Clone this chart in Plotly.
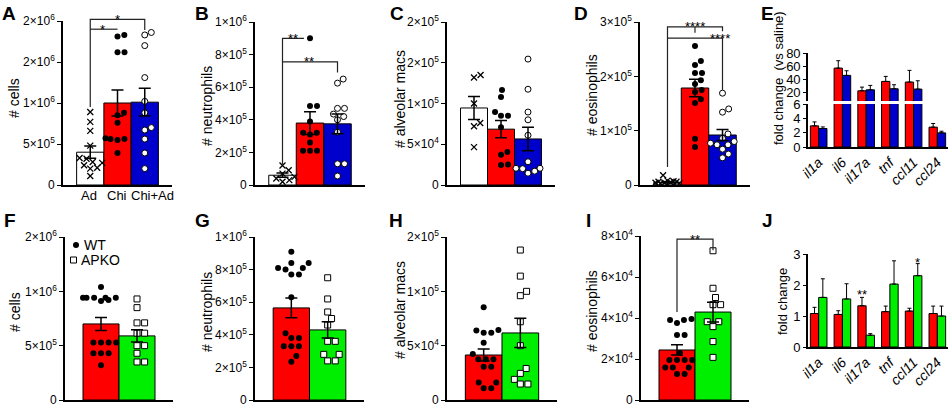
import plotly.graph_objects as go

W, H = 951, 408
RED, BLUE, GREEN = "#ff0000", "#0000cc", "#00ee00"
FONT = "Liberation Sans, Arial, sans-serif"

# ---------------- values ----------------
top_groups = ["Ad", "Chi", "Chi+Ad"]
bottom_groups = ["WT", "APKO"]
genes = ["il1a", "il6", "il17a", "tnf", "ccl11", "ccl24"]

# A  total cells
a_mean = [4.0e5, 1.00e6, 1.01e6]
a_sem = [7.5e4, 1.6e5, 1.7e5]
a_ad = [8.9e5, 7.7e5, 6.6e5, 4.8e5, 3.3e5, 3.2e5, 2.8e5, 2.7e5, 2.4e5, 2.1e5, 2.0e5, 1.1e5]
a_chi = [1.83e6, 1.81e6, 1.62e6, 1.62e6, 8.8e5, 8.5e5, 7.6e5, 5.7e5, 5.6e5, 5.6e5, 5.5e5, 3.9e5]
a_chiad = [1.86e6, 1.83e6, 1.70e6, 1.31e6, 1.02e6, 8.8e5, 7.0e5, 6.7e5, 5.6e5, 3.9e5, 2.0e5]

# B  neutrophils
b_mean = [6.0e4, 3.8e5, 3.75e5]
b_sem = [1.3e4, 7.0e4, 6.0e4]
b_ad = [1.2e5, 9.0e4, 7.0e4, 5.0e4, 4.0e4, 3.0e4, 2.0e4]
b_chi = [9.0e5, 4.85e5, 4.85e5, 3.9e5, 3.2e5, 3.2e5, 3.1e5, 2.6e5, 2.1e5, 2.1e5, 2.1e5]
b_chiad = [6.5e5, 6.25e5, 4.7e5, 4.7e5, 4.35e5, 4.2e5, 4.0e5, 3.25e5, 1.3e5, 1.3e5, 5.5e4]

# C  alveolar macrophages
c_mean = [9.45e4, 6.85e4, 5.65e4]
c_sem = [1.4e4, 1.05e4, 1.45e4]
c_ad = [1.35e5, 1.32e5, 1.0e5, 7.6e4, 7.2e4, 4.65e4]
c_chi = [1.165e5, 1.08e5, 8.95e4, 8.5e4, 8.5e4, 7.1e4, 4.05e4, 3.7e4, 2.5e4, 2.45e4]
c_chiad = [1.545e5, 1.175e5, 8.95e4, 8.0e4, 6.1e4, 2.85e4, 2.05e4, 2.05e4, 2.0e4, 1.7e4, 1.45e4]

# D  eosinophils
d_mean = [5.0e3, 1.785e5, 9.2e4]
d_sem = [1.0e3, 1.6e4, 1.0e4]
d_ad = [1.8e4, 8e3, 7e3, 6e3, 6e3, 5e3, 4e3, 4e3, 3e3, 3e3, 2e3, 2e3]
d_chi = [2.56e5, 2.28e5, 2.21e5, 2.06e5, 2.06e5, 1.93e5, 1.86e5, 1.75e5, 1.71e5, 1.58e5, 1.51e5, 8.5e4, 7.0e4]
d_chiad = [1.69e5, 1.40e5, 1.34e5, 9.4e4, 8.6e4, 8.0e4, 7.7e4, 7.4e4, 7.4e4, 6.6e4, 5.7e4, 5.0e4]

# E  fold change vs saline (mean and upper SEM)
e_chi = [2.95, 57.0, 22.5, 36.8, 35.8, 2.77]
e_chi_err = [0.55, 11.3, 5.6, 7.6, 17.8, 0.51]
e_chiad = [2.58, 45.9, 24.0, 25.6, 25.1, 1.97]
e_chiad_err = [0.22, 7.1, 6.7, 6.1, 12.7, 0.23]

# F  total cells WT / APKO
f_mean = [7.0e5, 5.9e5]
f_sem = [6.0e4, 5.7e4]
f_wt = [1.04e6, 9.4e5, 9.4e5, 9.4e5, 9.4e5, 9.4e5, 9.2e5, 9.1e5, 5.3e5, 5.3e5, 5.3e5, 5.3e5, 4.3e5, 4.3e5, 4.3e5, 3.2e5]
f_ko = [9.3e5, 8.5e5, 7.1e5, 7.1e5, 6.15e5, 6.15e5, 5.0e5, 5.0e5, 4.3e5, 3.5e5, 3.5e5]

# G  neutrophils
g_mean = [5.65e5, 4.3e5]
g_sem = [6.0e4, 5.0e4]
g_wt = [9.1e5, 8.4e5, 8.4e5, 8.1e5, 8.1e5, 8.0e5, 7.7e5, 7.7e5, 6.3e5, 4.1e5, 3.8e5, 3.8e5, 3.3e5, 3.3e5, 3.3e5, 2.7e5, 2.35e5]
g_ko = [7.5e5, 6.2e5, 5.4e5, 5.0e5, 4.6e5, 3.6e5, 3.6e5, 2.8e5, 2.8e5, 2.4e5, 2.4e5]

# H  alveolar macrophages
h_mean = [4.14e4, 6.17e4]
h_sem = [5.5e3, 1.35e4]
h_wt = [8.53e4, 6.44e4, 6.4e4, 6.2e4, 6.2e4, 5.27e4, 4.23e4, 3.74e4, 3.74e4, 3.74e4, 3.07e4, 3.07e4, 1.6e4, 1.6e4, 1.07e4, 1.07e4]
h_ko = [1.38e5, 1.14e5, 1.0e5, 9.6e4, 7.2e4, 5.0e4, 2.9e4, 2.45e4, 1.9e4, 1.47e4, 1.47e4]

# I  eosinophils
i_mean = [2.44e4, 4.29e4]
i_sem = [2.5e3, 4.8e3]
i_wt = [3.95e4, 3.9e4, 3.9e4, 3.75e4, 3.17e4, 3.17e4, 2.29e4, 1.95e4, 1.95e4, 1.95e4, 1.95e4, 1.58e4, 1.58e4, 1.58e4, 1.27e4, 1.27e4]
i_ko = [7.28e4, 5.45e4, 5.0e4, 4.65e4, 4.65e4, 3.82e4, 3.82e4, 3.58e4, 2.85e4, 2.08e4]

# J  fold change WT / APKO (mean and upper SEM)
j_wt = [1.08, 1.05, 1.33, 1.14, 1.16, 1.08]
j_wt_err = [0.20, 0.12, 0.27, 0.18, 0.09, 0.24]
j_ko = [1.60, 1.55, 0.38, 2.03, 2.30, 1.00]
j_ko_err = [0.60, 0.49, 0.05, 0.75, 0.39, 0.32]

# significance brackets: polylines as (group position, value), labels as (group, value, text)
a_lines = [[(0, 9.5e5), (0, 2.02e6), (2, 2.02e6), (2, 1.89e6)], [(0, 1.9e6), (1, 1.9e6)]]
a_stars = [(1, 2.02e6, "*"), (0.45, 1.9e6, "*")]
b_lines = [[(0, 1.25e5), (0, 9.0e5), (0.78, 9.0e5)], [(0, 7.55e5), (2, 7.55e5), (2, 6.9e5)]]
b_stars = [(0.38, 9.0e5, "**"), (0.96, 7.55e5, "**")]
d_lines = [[(0, 3.3e4), (0, 2.91e5), (2, 2.91e5), (2, 2.83e5)], [(1, 2.91e5), (1, 2.80e5)],
           [(0, 2.705e5), (2, 2.705e5), (2, 1.75e5)]]
d_stars = [(1, 2.91e5, "****"), (1.9, 2.705e5, "****")]
i_lines = [[(0, 4.29e4), (0, 7.85e4), (1, 7.85e4), (1, 7.3e4)]]
i_stars = [(0.5, 7.85e4, "**")]
j_stars = [(1.825, 1.68, "**"), (4.175, 2.72, "*")]

# ---------------- layout geometry (pixels) ----------------
BOX = {  # x0, x1, ytop, ybottom
    "A": (63, 172, 21, 185), "B": (255, 365, 22, 185), "C": (447, 555, 22, 185),
    "D": (640, 750, 22, 185), "Eh": (808, 948, 53, 101), "El": (808, 948, 104, 147),
    "F": (65, 173, 237, 400), "G": (255, 364, 237, 400), "H": (447, 557, 237, 400),
    "I": (641, 749, 236, 400), "J": (808, 948, 254, 347),
}
XR = {p: [-1, 3] for p in "ABCD"}
XR.update({p: [-1, 2] for p in "FGHI"})
XR.update({"Eh": [-0.45, 5.45], "El": [-0.45, 5.45], "J": [-0.45, 5.45]})
YR = {"A": [0, 2e6], "B": [0, 1e6], "C": [0, 2e5], "D": [0, 3e5], "Eh": [7, 80], "El": [0, 6],
      "F": [0, 1.5e6], "G": [0, 1e6], "H": [0, 1.5e5], "I": [0, 8e4], "J": [0, 3]}
NUM = {"A": 1, "B": 2, "C": 3, "D": 4, "El": 5, "F": 6, "G": 7, "H": 8, "I": 9, "J": 10, "Eh": 11}


def sci(m, e):
    return f"{m}×10<sup>{e}</sup>"


TICKS = {
    "A": ([0, 5e5, 1e6, 1.5e6, 2e6], ["0", sci(5, 5), sci(1, 6), sci(2, 6), sci(2, 6)]),
    "B": ([0, 2e5, 4e5, 6e5, 8e5, 1e6], ["0", sci(2, 5), sci(4, 5), sci(6, 5), sci(8, 5), sci(1, 6)]),
    "C": ([0, 5e4, 1e5, 1.5e5, 2e5], ["0", sci(5, 4), sci(1, 5), sci(2, 5), sci(2, 5)]),
    "D": ([0, 1e5, 2e5, 3e5], ["0", sci(1, 5), sci(2, 5), sci(3, 5)]),
    "Eh": ([20, 40, 60, 80], ["20", "40", "60", "80"]),
    "El": ([0, 2, 4, 6], ["0", "2", "4", "6"]),
    "F": ([0, 5e5, 1e6, 1.5e6], ["0", sci(5, 5), sci(1, 6), sci(2, 6)]),
    "G": ([0, 2e5, 4e5, 6e5, 8e5, 1e6], ["0", sci(2, 5), sci(4, 5), sci(6, 5), sci(8, 5), sci(1, 6)]),
    "H": ([0, 5e4, 1e5, 1.5e5], ["0", sci(5, 4), sci(1, 5), sci(2, 5)]),
    "I": ([0, 2e4, 4e4, 6e4, 8e4], ["0", sci(2, 4), sci(4, 4), sci(6, 4), sci(8, 4)]),
    "J": ([0, 1, 2, 3], ["0", "1", "2", "3"]),
}


def ids(p):
    xn = NUM["El"] if p == "Eh" else NUM[p]
    yn = NUM[p]
    return ("x" if xn == 1 else f"x{xn}"), ("y" if yn == 1 else f"y{yn}")


def scale(p):
    x0, x1, yt, yb = BOX[p]
    return (x1 - x0) / (XR[p][1] - XR[p][0]), (yb - yt) / (YR[p][1] - YR[p][0])


def to_paper(p, xv, yv):
    x0, x1, yt, yb = BOX[p]
    sx, sy = scale(p)
    return (x0 + (xv - XR[p][0]) * sx) / W, 1 - (yb - (yv - YR[p][0]) * sy) / H


def swarm(vals, p, d, maxw):
    # simple beeswarm in pixel space, returns x offsets in axis units
    sx, sy = scale(p)
    placed, offs = [], [0.0] * len(vals)
    for i in sorted(range(len(vals)), key=lambda k: vals[k]):
        y = vals[i] * sy
        near = [(px, py) for px, py in placed if abs(py - y) < d]
        cands = [0.0]
        for px, py in near:
            dx = (d * d - (py - y) ** 2) ** 0.5
            cands += [px + dx, px - dx]
        ok = [c for c in cands if abs(c) <= maxw
              and all((c - px) ** 2 + (y - py) ** 2 >= d * d - 1e-6 for px, py in near)]
        if ok:
            c = min(ok, key=abs)
        else:
            grid = [maxw * (k / 4.0 - 1) for k in range(9)]
            c = max(grid, key=lambda g: min((g - px) ** 2 + (y - py) ** 2 for px, py in near))
        placed.append((c, y))
        offs[i] = c / sx
    return offs


X_MARK = dict(symbol="x-thin", size=6, color="black", line=dict(color="black", width=1.3))
DOT = dict(symbol="circle", size=6, color="black", line=dict(width=0))
OPEN_C = dict(symbol="circle", size=6, color="white", line=dict(color="black", width=1))
OPEN_S = dict(symbol="square", size=6, color="white", line=dict(color="black", width=1))

fig = go.Figure()


def dot_panel(p, means, sems, groups_pts, styles, colors):
    xa, ya = ids(p)
    xs = list(range(len(means)))
    fig.add_bar(x=xs, y=means, width=1, xaxis=xa, yaxis=ya, showlegend=False,
                marker=dict(color=colors, line=dict(color="black", width=1)))
    wide = len(means) == 2
    for i, (vals, st) in enumerate(zip(groups_pts, styles)):
        offs = swarm(vals, p, 7.6 if wide else 7.0, 18 if wide else 12)
        fig.add_scatter(x=[i + o for o in offs], y=vals, mode="markers", marker=st,
                        xaxis=xa, yaxis=ya, cliponaxis=False, showlegend=False)
    fig.add_scatter(x=xs, y=means, mode="markers", xaxis=xa, yaxis=ya, showlegend=False,
                    marker=dict(size=1, color="rgba(0,0,0,0)"),
                    error_y=dict(type="data", array=sems, color="black", thickness=1.5, width=6))


top_styles = [X_MARK, DOT, OPEN_C]
top_colors = ["white", RED, BLUE]
dot_panel("A", a_mean, a_sem, [a_ad, a_chi, a_chiad], top_styles, top_colors)
dot_panel("B", b_mean, b_sem, [b_ad, b_chi, b_chiad], top_styles, top_colors)
dot_panel("C", c_mean, c_sem, [c_ad, c_chi, c_chiad], top_styles, top_colors)
dot_panel("D", d_mean, d_sem, [d_ad, d_chi, d_chiad], top_styles, top_colors)
bot_styles = [DOT, OPEN_S]
bot_colors = [RED, GREEN]
dot_panel("F", f_mean, f_sem, [f_wt, f_ko], bot_styles, bot_colors)
dot_panel("G", g_mean, g_sem, [g_wt, g_ko], bot_styles, bot_colors)
dot_panel("H", h_mean, h_sem, [h_wt, h_ko], bot_styles, bot_colors)
dot_panel("I", i_mean, i_sem, [i_wt, i_ko], bot_styles, bot_colors)


def gene_bars(p, series):
    xa, ya = ids(p)
    for (vals, err, col), off in zip(series, [-0.35, 0.0]):
        fig.add_bar(x=list(range(len(genes))), y=vals, width=0.35, offset=off,
                    xaxis=xa, yaxis=ya, showlegend=False,
                    marker=dict(color=col, line=dict(color="black", width=1)),
                    error_y=dict(type="data", symmetric=False, array=err,
                                 arrayminus=[0] * len(err), color="black", thickness=1, width=2))


gene_bars("El", [(e_chi, e_chi_err, RED), (e_chiad, e_chiad_err, BLUE)])
gene_bars("Eh", [(e_chi, e_chi_err, RED), (e_chiad, e_chiad_err, BLUE)])
gene_bars("J", [(j_wt, j_wt_err, RED), (j_ko, j_ko_err, GREEN)])

# ---------------- axes ----------------
layout = {}
for p, (x0, x1, yt, yb) in BOX.items():
    xa, ya = ids(p)
    tv, tt = TICKS[p]
    small = p in ("Eh", "El", "J")
    layout["yaxis" + ya[1:]] = dict(
        domain=[1 - yb / H, 1 - yt / H], range=YR[p], anchor=xa, showline=True,
        linecolor="black", linewidth=1.6, ticks="outside", ticklen=3 if small else 4,
        tickwidth=1.3, tickcolor="black", tickvals=tv, ticktext=tt, showgrid=False,
        zeroline=False, automargin=False,
        tickfont=dict(size=13 if small else 12, color="black"))
    if p == "Eh":
        continue
    xax = dict(domain=[x0 / W, x1 / W], range=XR[p], anchor=ya, showline=True,
               linecolor="black", linewidth=1.6, ticks="", showgrid=False, zeroline=False,
               showticklabels=False, automargin=False)
    if p in ("El", "J"):
        xax.update(showticklabels=True, tickvals=list(range(6)),
                   ticktext=[f"<i>{g}</i>" for g in genes], tickangle=-45,
                   tickfont=dict(size=14, color="black"))
    layout["xaxis" + xa[1:]] = xax

# ---------------- brackets and stars ----------------
shapes, notes = [], []
for p, lines, stars in [("A", a_lines, a_stars), ("B", b_lines, b_stars), ("D", d_lines, d_stars),
                        ("I", i_lines, i_stars), ("J", [], j_stars)]:
    for line in lines:
        pts = [to_paper(p, xv, yv) for xv, yv in line]
        path = "M " + " L ".join(f"{px:.5f},{py:.5f}" for px, py in pts)
        shapes.append(dict(type="path", path=path, xref="paper", yref="paper",
                           line=dict(color="#222", width=1.2)))
    for xv, yv, txt in stars:
        px, py = to_paper(p, xv, yv)
        notes.append(dict(x=px, y=py, xref="paper", yref="paper", text=txt, showarrow=False,
                          xanchor="center", yanchor="middle", font=dict(size=13, color="black")))

# group names under panel A
for txt, x in zip(top_groups, [89, 117, 152]):
    notes.append(dict(x=x / W, y=1 - 195 / H, xref="paper", yref="paper", text=txt,
                      showarrow=False, xanchor="center", yanchor="middle", font=dict(size=13)))

# legend of panel F (symbol glyphs + labels)
shapes.append(dict(type="circle", xref="paper", yref="paper", x0=73 / W, x1=79 / W,
                   y0=1 - 248 / H, y1=1 - 242 / H, fillcolor="black", line=dict(width=0)))
shapes.append(dict(type="rect", xref="paper", yref="paper", x0=70.5 / W, x1=76.5 / W,
                   y0=1 - 263 / H, y1=1 - 257 / H, fillcolor="white",
                   line=dict(color="black", width=1)))
notes.append(dict(x=82 / W, y=1 - 245 / H, xref="paper", yref="paper", text=bottom_groups[0],
                  showarrow=False, xanchor="left", yanchor="middle", font=dict(size=14)))
notes.append(dict(x=79 / W, y=1 - 260 / H, xref="paper", yref="paper", text=bottom_groups[1],
                  showarrow=False, xanchor="left", yanchor="middle", font=dict(size=14)))

# axis titles
ytitles = [("# cells", 14, 98), ("# neutrophils", 207, 106), ("# alveolar macs", 400, 99),
           ("# eosinophils", 592, 95), ("fold change  (vs saline)", 778, 78),
           ("# cells", 15, 312), ("# neutrophils", 207, 312), ("# alveolar macs", 400, 310),
           ("# eosinophils", 592, 311), ("fold change", 782, 302)]
for txt, x, y in ytitles:
    notes.append(dict(x=x / W, y=1 - y / H, xref="paper", yref="paper", text=txt, textangle=-90,
                      showarrow=False, xanchor="center", yanchor="middle",
                      font=dict(size=13 if "fold" in txt else 14, color="black")))

# panel letters
letters = [("A", 9, 13), ("B", 202, 13), ("C", 397, 13), ("D", 581, 13), ("E", 767, 14),
           ("F", 10, 221), ("G", 202, 221), ("H", 396, 221), ("I", 588, 221), ("J", 767, 221)]
for txt, x, y in letters:
    notes.append(dict(x=x / W, y=1 - y / H, xref="paper", yref="paper", text=f"<b>{txt}</b>",
                      showarrow=False, xanchor="center", yanchor="middle",
                      font=dict(size=19, color="black")))

fig.update_layout(
    width=W, height=H, margin=dict(l=0, r=0, t=0, b=0, pad=0, autoexpand=False),
    paper_bgcolor="white", plot_bgcolor="white", barmode="overlay", showlegend=False,
    font=dict(family=FONT, color="black"), hovermode=False,
    shapes=shapes, annotations=notes,
    **layout,
)

# the page body keeps its default 8px margin otherwise, which pushes the chart off the window
fig.write_html("out.html", config={"displayModeBar": False},
               post_script="document.body.style.margin = '0px';")
